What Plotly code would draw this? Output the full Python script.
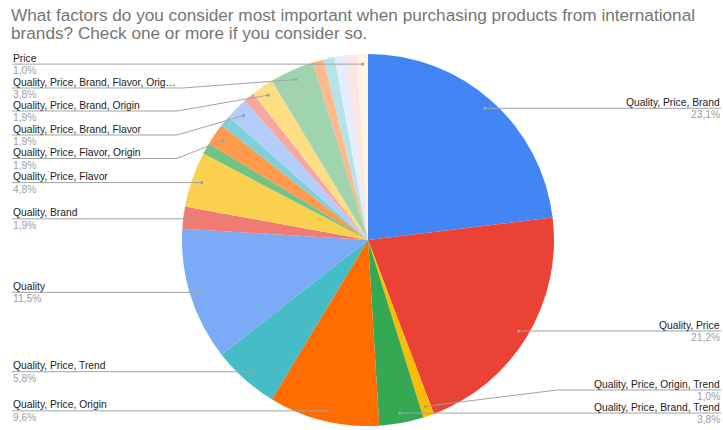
import numpy as np
import plotly.graph_objects as go

W, H = 723, 430

TITLE_LINES = [
    "What factors do you consider most important when purchasing products from international",
    "brands? Check one or more if you consider so.",
]

# Answer combinations, in the order they are drawn clockwise from 12 o'clock
categories = [
    "Quality, Price, Brand",
    "Quality, Price",
    "Quality, Price, Origin, Trend",
    "Quality, Price, Brand, Trend",
    "Quality, Price, Origin",
    "Quality, Price, Trend",
    "Quality",
    "Quality, Brand",
    "Quality, Price, Flavor",
    "Quality, Flavor",
    "Quality, Price, Flavor, Origin",
    "Quality, Origin",
    "Quality, Price, Brand, Flavor",
    "Quality, Price, Flavor, Trend",
    "Quality, Price, Brand, Origin",
    "Quality, Price, Brand, Flavor, Origin",
    "Brand",
    "Quality, Brand, Origin",
    "Quality, Trend",
    "Price, Brand",
    "Price",
]

# Number of respondents per combination
responses = [24, 22, 1, 4, 10, 6, 12, 2, 5, 1, 2, 1, 2, 1, 2, 4, 1, 1, 1, 1, 1]

slice_colors = [
    "#4285F4", "#EA4335", "#FBBC04", "#34A853", "#FF6D01", "#46BDC6",
    "#7BAAF7", "#F07B72", "#FCD04F", "#71C287", "#FF994D", "#7ED1D7",
    "#B3CEFB", "#F7A7A1", "#FDDE83", "#A0D4AE", "#FFB889", "#B5E4E8",
    "#E3EDFD", "#FCE6E4", "#FEF6E0",
]

# Pie placement in pixels
CX, CY, R = 368.0, 240.0, 186.0
DOT_R = 0.946 * R

# Callouts: category -> (side, leader y or None for a straight leader, bend x)
callouts = {
    "Quality, Price, Brand": ("right", None, None),
    "Quality, Price": ("right", None, None),
    "Quality, Price, Origin, Trend": ("right", 390.0, 557.0),
    "Quality, Price, Brand, Trend": ("right", None, None),
    "Quality, Price, Origin": ("left", None, None),
    "Quality, Price, Trend": ("left", None, None),
    "Quality": ("left", None, None),
    "Quality, Brand": ("left", None, None),
    "Quality, Price, Flavor": ("left", None, None),
    "Quality, Price, Flavor, Origin": ("left", 158.5, 177.0),
    "Quality, Price, Brand, Flavor": ("left", 135.0, 177.0),
    "Quality, Price, Brand, Origin": ("left", 111.0, 177.0),
    "Quality, Price, Brand, Flavor, Origin": ("left", 88.0, 183.0),
    "Price": ("left", None, None),
}

LEFT_X, RIGHT_X = 12.0, 721.0
LINE_COLOR = "#A3A3A3"
FONT = "Liberation Sans, Arial, sans-serif"
LABEL_SIZE = 10.3


def px(x):
    return x / W


def py(y):
    return 1.0 - y / H


vals = np.array(responses, dtype=float)
total = vals.sum()
shares = vals / total
mid = np.cumsum(shares) - shares / 2.0
theta = 2 * np.pi * mid
dot_x = CX + DOT_R * np.sin(theta)
dot_y = CY - DOT_R * np.cos(theta)

fig = go.Figure(
    go.Pie(
        labels=categories,
        values=responses,
        sort=False,
        direction="clockwise",
        rotation=0,
        marker=dict(colors=slice_colors, line=dict(width=0)),
        textinfo="none",
        hovertemplate="%{label}<br>%{value} (%{percent})<extra></extra>",
        domain=dict(
            x=[px(CX - R), px(CX + R)],
            y=[py(CY + R), py(CY - R)],
        ),
        showlegend=False,
    )
)

shapes = []
annotations = []

for i, name in enumerate(categories):
    if name not in callouts:
        continue
    side, ly, bx = callouts[name]
    dx, dy = dot_x[i], dot_y[i]
    edge = LEFT_X if side == "left" else RIGHT_X
    if ly is None:
        ly = dy
        path = f"M {px(edge)},{py(ly)} L {px(dx)},{py(dy)}"
    else:
        path = f"M {px(edge)},{py(ly)} L {px(bx)},{py(ly)} L {px(dx)},{py(dy)}"
    shapes.append(dict(type="path", xref="paper", yref="paper", path=path,
                       line=dict(color=LINE_COLOR, width=1)))
    shapes.append(dict(type="circle", xref="paper", yref="paper",
                       x0=px(dx - 1.6), x1=px(dx + 1.6),
                       y0=py(dy + 1.6), y1=py(dy - 1.6),
                       line=dict(width=0), fillcolor="#A0A0A0"))

    shown = name if len(name) <= 35 else name[:35] + "…"
    pct = f"{shares[i] * 100:.1f}%".replace(".", ",")
    anchor = "left" if side == "left" else "right"
    annotations.append(dict(
        xref="paper", yref="paper", x=px(edge), y=py(ly - 6.0),
        xanchor=anchor, yanchor="middle", text=shown, showarrow=False,
        font=dict(family=FONT, size=LABEL_SIZE, color="#222222"),
        borderpad=0,
    ))
    annotations.append(dict(
        xref="paper", yref="paper", x=px(edge), y=py(ly + 6.5),
        xanchor=anchor, yanchor="middle", text=pct, showarrow=False,
        font=dict(family=FONT, size=LABEL_SIZE, color="#A0A0A0"),
        borderpad=0,
    ))

for k, line in enumerate(TITLE_LINES):
    annotations.append(dict(
        xref="paper", yref="paper", x=px(10), y=py(15 + 18 * k),
        xanchor="left", yanchor="middle", text=line, showarrow=False,
        font=dict(family=FONT, size=17.2, color="#757575"),
        borderpad=0,
    ))

fig.update_layout(
    width=W,
    height=H,
    autosize=False,
    margin=dict(l=0, r=0, t=0, b=0),
    paper_bgcolor="white",
    plot_bgcolor="white",
    shapes=shapes,
    annotations=annotations,
)

fig.write_html("out.html")
